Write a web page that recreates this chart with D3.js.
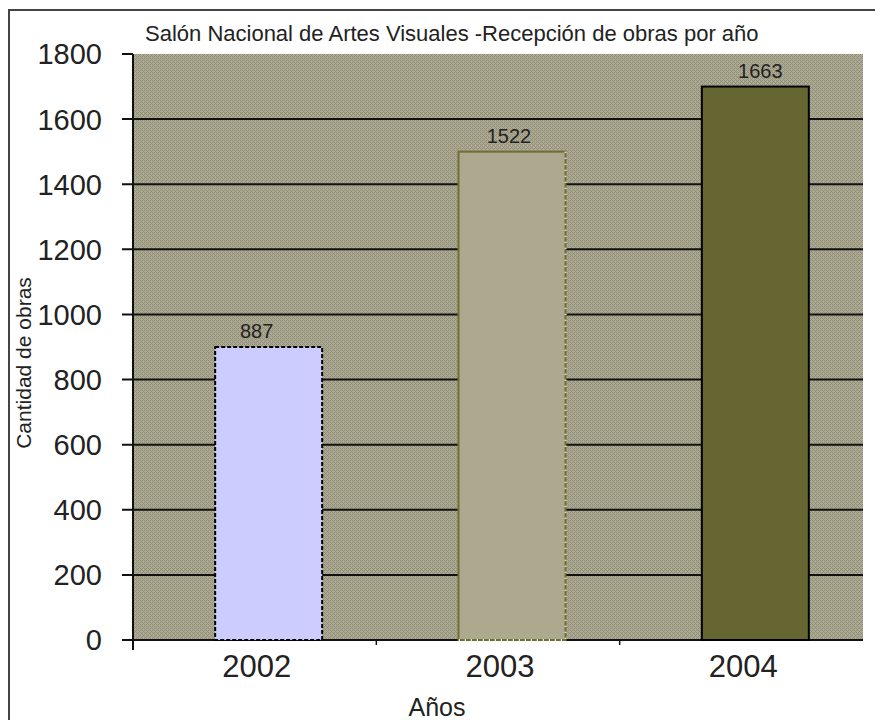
<!DOCTYPE html>
<html>
<head>
<meta charset="utf-8">
<script src="https://cdn.jsdelivr.net/npm/d3@7"></script>
<style>
  body { margin: 0; background: #fff; }
  svg { display: block; font-family: "Liberation Sans", Arial, sans-serif; }
</style>
</head>
<body>
<svg id="chart"></svg>
<script>
var years = ["2002", "2003", "2004"];
// bar heights as drawn in the picture, and the value labels printed over them
var barValues = [900, 1500, 1700];
var valueLabels = ["887", "1522", "1663"];
var yTicks = [0, 200, 400, 600, 800, 1000, 1200, 1400, 1600, 1800];
var barFills = ["#ccccff", "#ada98e", "#666633"];
var barStrokes = ["#000", "#6f6f34", "#000"];
var barDashes = ["4,2", null, null];

var width = 875, height = 720;
var plot = { left: 133, right: 863, top: 54, bottom: 640 };

var svg = d3.select('#chart').attr('width', width).attr('height', height);

// outer frame (only top and left visible)
svg.append('rect')
  .attr('x', 9).attr('y', 10)
  .attr('width', 900).attr('height', 800)
  .attr('fill', 'none')
  .attr('stroke', '#444')
  .attr('stroke-width', 2)

// checker pattern for plot background
var defs = svg.append('defs');
var pat = defs.append('pattern')
  .attr('id', 'bg')
  .attr('patternUnits', 'userSpaceOnUse')
  .attr('width', 4).attr('height', 4);
pat.append('rect').attr('width', 4).attr('height', 4).attr('fill', '#aeaa8c');
[[0, 0], [2, 0], [1, 1], [0, 2], [2, 2], [3, 3]].forEach(function (p) {
  pat.append('rect').attr('x', p[0]).attr('y', p[1]).attr('width', 1).attr('height', 1).attr('fill', '#908e84');
});

var x = d3.scaleBand().domain(years).range([plot.left, plot.right]);
var y = d3.scaleLinear().domain([0, 1800]).range([plot.bottom, plot.top]);
var step = x.step();
var barW = 107;

svg.append('rect')
  .attr('x', plot.left).attr('y', plot.top)
  .attr('width', plot.right - plot.left).attr('height', plot.bottom - plot.top)
  .attr('fill', 'url(#bg)')

// gridlines
svg.append('g')
  .selectAll('line')
  .data(yTicks)
  .enter().append('line')
    .attr('x1', plot.left - 11)
    .attr('x2', function (d) { return d === 1800 ? plot.left : plot.right })
    .attr('y1', function (d) { return y(d) })
    .attr('y2', function (d) { return y(d) })
    .attr('stroke', '#111')
    .attr('stroke-width', 2)

// y axis line
svg.append('line')
  .attr('x1', plot.left).attr('x2', plot.left)
  .attr('y1', plot.top).attr('y2', plot.bottom + 10)
  .attr('stroke', '#111').attr('stroke-width', 2)

// x ticks at category boundaries
svg.append('g')
  .selectAll('line')
  .data(years.slice(1))
  .enter().append('line')
    .attr('x1', function (d) { return x(d) })
    .attr('x2', function (d) { return x(d) })
    .attr('y1', plot.bottom)
    .attr('y2', plot.bottom + 5)
    .attr('stroke', '#111').attr('stroke-width', 1.5)

// y tick labels
svg.append('g')
  .selectAll('text')
  .data(yTicks)
  .enter().append('text')
    .attr('x', 102)
    .attr('y', function (d) { return y(d) })
    .attr('dy', '0.36em')
    .attr('text-anchor', 'end')
    .attr('font-size', 29)
    .attr('fill', '#222')
    .text(function (d) { return d })

// bars
function barX(d) { return x(d) + step / 2 + 14 - barW / 2 }

svg.append('g')
  .selectAll('rect')
  .data(years)
  .enter().append('rect')
    .attr('x', barX)
    .attr('y', function (d, i) { return y(barValues[i]) })
    .attr('width', barW)
    .attr('height', function (d, i) { return y(0) - y(barValues[i]) })
    .attr('fill', function (d, i) { return barFills[i] })
    .attr('stroke', function (d, i) { return barStrokes[i] })
    .attr('stroke-width', 2)
    .attr('stroke-dasharray', function (d, i) { return barDashes[i] })

// dotted white marks on right and bottom edge of the 2003 bar
var b3 = years[1], b3x = barX(b3), b3y = y(barValues[1]);
svg.append('path')
  .attr('d', 'M' + (b3x + barW) + ',' + b3y + 'V' + y(0) + 'H' + b3x)
  .attr('fill', 'none')
  .attr('stroke', '#fff')
  .attr('stroke-width', 2)
  .attr('stroke-dasharray', '1,5')

// value labels
svg.append('g')
  .selectAll('text')
  .data(years)
  .enter().append('text')
    .attr('x', function (d, i) { return x(d) + step / 2 + [2, 11, 19][i] })
    .attr('y', function (d, i) { return y(barValues[i]) - 9 })
    .attr('text-anchor', 'middle')
    .attr('font-size', 20)
    .attr('fill', '#222')
    .text(function (d, i) { return valueLabels[i] })

// x tick labels
svg.append('g')
  .selectAll('text')
  .data(years)
  .enter().append('text')
    .attr('x', function (d) { return x(d) + step / 2 + 2 })
    .attr('y', 677)
    .attr('text-anchor', 'middle')
    .attr('font-size', 31)
    .attr('fill', '#222')
    .text(function (d) { return d })

// titles
svg.append('text')
  .attr('x', 145).attr('y', 41)
  .attr('font-size', 22)
  .attr('fill', '#222')
  .text('Salón Nacional de Artes Visuales -Recepción de obras por año')

svg.append('text')
  .attr('transform', 'translate(31,363) rotate(-90)')
  .attr('text-anchor', 'middle')
  .attr('font-size', 21)
  .attr('fill', '#222')
  .text('Cantidad de obras')

svg.append('text')
  .attr('x', (plot.left + plot.right) / 2 - 61).attr('y', 716)
  .attr('text-anchor', 'middle')
  .attr('font-size', 25)
  .attr('fill', '#222')
  .text('Años')
</script>
</body>
</html>
